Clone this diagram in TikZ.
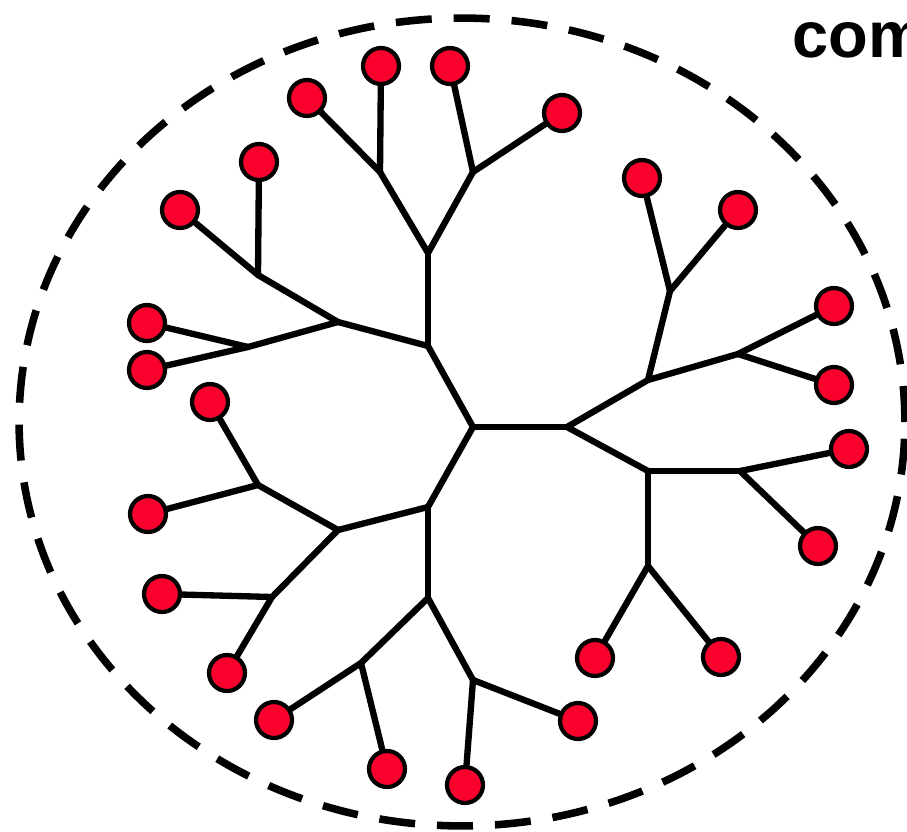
\documentclass[tikz,border=0pt]{standalone}
\usepackage{fontspec}
\newfontfamily\labelfont{Liberation Sans}
\usepackage{tikz}

\definecolor{leafred}{RGB}{250,0,45}
\tikzset{
  leaf/.style={circle,draw=black,line width=2.4pt,fill=leafred,minimum size=0.72cm,inner sep=0pt},
  branch/.style={line width=3.6pt,line cap=round},
  boundary/.style={line width=4.3pt,dash pattern=on 0.72cm off 0.44cm}
}

\begin{document}
\begin{tikzpicture}[x=0.02cm,y=-0.02cm]
        \useasboundingbox (0,0) rectangle (907,832);
        % dashed boundary
        \draw[boundary] (462,422) ellipse [x radius=8.86cm, y radius=8.08cm];
        \node[anchor=base west,font=\labelfont\bfseries\fontsize{37}{42}\selectfont] (title) at (786,57) {com};
        % root and inner splits
        \coordinate (r) at (473,427);
        \coordinate (u) at (428,346);
        \coordinate (d) at (428,507);
        \coordinate (e) at (567,427);
        \coordinate (uu) at (428,253);
        \coordinate (ul) at (338,322);
        \coordinate (uua) at (380,172);
        \coordinate (uub) at (473,172);
        \coordinate (ula) at (258,275);
        \coordinate (ulb) at (248,347);
        \coordinate (dl) at (338,530);
        \coordinate (dd) at (428,598);
        \coordinate (dla) at (258,485);
        \coordinate (dlb) at (272,597);
        \coordinate (dda) at (361,663);
        \coordinate (ddb) at (473,680);
        \coordinate (eu) at (648,380);
        \coordinate (ed) at (648,471);
        \coordinate (eua) at (670,291);
        \coordinate (eub) at (738,354);
        \coordinate (eda) at (740,471);
        \coordinate (edb) at (648,566);
        % leaves, upper part
        \node[leaf] (uua1) at (307,98) {};
        \node[leaf] (uua2) at (381,66) {};
        \node[leaf] (uub1) at (450,66) {};
        \node[leaf] (uub2) at (562,113) {};
        \node[leaf] (ula1) at (180,210) {};
        \node[leaf] (ula2) at (259,162) {};
        \node[leaf] (ulb1) at (147,323) {};
        \node[leaf] (ulb2) at (147,370) {};
        % leaves, lower part
        \node[leaf] (dla1) at (210,402) {};
        \node[leaf] (dla2) at (148,514) {};
        \node[leaf] (dlb1) at (162,594) {};
        \node[leaf] (dlb2) at (227,673) {};
        \node[leaf] (dda1) at (274,720) {};
        \node[leaf] (dda2) at (387,769) {};
        \node[leaf] (ddb1) at (465,785) {};
        \node[leaf] (ddb2) at (578,721) {};
        % leaves, right part
        \node[leaf] (eua1) at (642,178) {};
        \node[leaf] (eua2) at (738,210) {};
        \node[leaf] (eub1) at (834,306) {};
        \node[leaf] (eub2) at (834,385) {};
        \node[leaf] (eda1) at (849,449) {};
        \node[leaf] (eda2) at (818,546) {};
        \node[leaf] (edb1) at (595,658) {};
        \node[leaf] (edb2) at (721,657) {};
        % branches
        \foreach \p/\c in {r/u, r/d, r/e,
                           u/uu, u/ul, uu/uua, uu/uub, ul/ula, ul/ulb,
                           d/dl, d/dd, dl/dla, dl/dlb, dd/dda, dd/ddb,
                           e/eu, e/ed, eu/eua, eu/eub, ed/eda, ed/edb}
            \draw[branch] (\p) -- (\c);
        \foreach \p/\c in {uua/uua1, uua/uua2, uub/uub1, uub/uub2,
                           ula/ula1, ula/ula2, ulb/ulb1, ulb/ulb2,
                           dla/dla1, dla/dla2, dlb/dlb1, dlb/dlb2,
                           dda/dda1, dda/dda2, ddb/ddb1, ddb/ddb2,
                           eua/eua1, eua/eua2, eub/eub1, eub/eub2,
                           eda/eda1, eda/eda2, edb/edb1, edb/edb2}
            \draw[branch] (\p) -- (\c);
    \end{tikzpicture}
\end{document}
